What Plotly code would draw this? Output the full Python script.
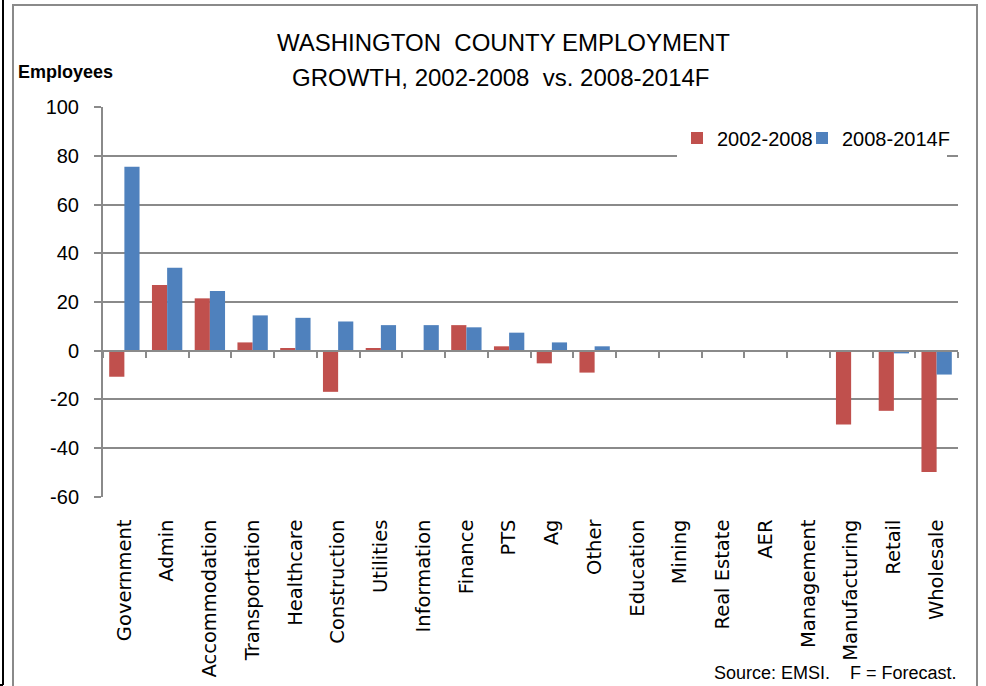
import plotly.graph_objects as go

categories = ["Government", "Admin", "Accommodation", "Transportation", "Healthcare",
              "Construction", "Utilities", "Information", "Finance", "PTS", "Ag", "Other",
              "Education", "Mining", "Real Estate", "AER", "Management", "Manufacturing",
              "Retail", "Wholesale"]
growth_2002_2008 = [-10.7, 27.0, 21.5, 3.4, 1.1, -16.9, 1.1, 0, 10.5, 1.8, -5.2, -9.0,
                    0, 0, 0, 0, 0, -30.3, -24.7, -49.8]
growth_2008_2014f = [75.6, 34.1, 24.5, 14.5, 13.5, 12.0, 10.5, 10.5, 9.6, 7.4, 3.4, 1.8,
                     0, 0, 0, 0, 0, 0, -1.1, -9.8]
y_ticks = [-60, -40, -20, 0, 20, 40, 60, 80, 100]
y_tick_labels = ["-60", "-40", "-20", "0", "20", "40", "60", "80", "100"]

GRID = "#8a8a8a"
RED = "#C0504D"
BLUE = "#4F81BD"

W, H = 986, 686
L, R, T, B = 103, 28, 107, 189
PW, PH = W - L - R, H - T - B


def px(x):
    return (x - L) / PW


def py(y):
    return (H - B - y) / PH


fig = go.Figure()
fig.add_trace(go.Bar(x=categories, y=growth_2002_2008, name="2002-2008",
                     marker=dict(color=RED, line=dict(width=0)), legend="legend"))
fig.add_trace(go.Bar(x=categories, y=growth_2008_2014f, name="2008-2014F",
                     marker=dict(color=BLUE, line=dict(width=0)), legend="legend2"))

legend_common = dict(orientation="h", xanchor="left", yanchor="middle",
                     font=dict(size=20, family="Liberation Sans"))

fig.update_layout(
    width=W, height=H,
    margin=dict(l=L, r=R, t=T, b=B, autoexpand=False),
    paper_bgcolor="white", plot_bgcolor="white",
    barmode="group", bargap=0.29, bargroupgap=0,
    font=dict(family="Liberation Sans, Arial, sans-serif", color="black"),
    showlegend=True,
    legend=dict(x=px(677), y=py(138), bgcolor="white", entrywidth=225,
                entrywidthmode="pixels", **legend_common),
    legend2=dict(x=px(802), y=py(138), bgcolor="rgba(0,0,0,0)", **legend_common),
    xaxis=dict(type="category", categoryorder="array", categoryarray=categories,
               range=[-0.5, len(categories) - 0.5], automargin=False,
               anchor="free", position=60 / 160,
               showgrid=False, showline=True, linecolor=GRID, linewidth=2,
               zeroline=False,
               ticks="outside", tickson="boundaries", ticklen=6, tickwidth=2,
               tickcolor=GRID,
               tickangle=-90, ticklabelstandoff=160,
               tickfont=dict(family="DejaVu Sans", size=19.5, color="black")),
    yaxis=dict(range=[-60.1, 100.1], tickvals=y_ticks, ticktext=y_tick_labels,
               automargin=False,
               showgrid=True, gridcolor=GRID, gridwidth=2, zeroline=False,
               showline=True, linecolor=GRID, linewidth=2,
               ticks="outside", ticklen=7, tickwidth=2, tickcolor=GRID,
               ticklabelstandoff=11,
               tickfont=dict(family="Liberation Sans", size=20, color="black")),
)

fig.add_annotation(text="WASHINGTON  COUNTY EMPLOYMENT", x=px(503), y=py(42.5),
                   xref="paper", yref="paper", xanchor="center", yanchor="middle",
                   showarrow=False, font=dict(size=24, family="Liberation Sans"))
fig.add_annotation(text="GROWTH, 2002-2008  vs. 2008-2014F", x=px(501), y=py(77),
                   xref="paper", yref="paper", xanchor="center", yanchor="middle",
                   showarrow=False, font=dict(size=24, family="Liberation Sans"))
fig.add_annotation(text="<b>Employees</b>", x=px(16), y=py(72),
                   xref="paper", yref="paper", xanchor="left", yanchor="middle",
                   showarrow=False, font=dict(size=18, family="Liberation Sans"))
fig.add_annotation(text="Source: EMSI.    F = Forecast.", x=px(959), y=py(673),
                   xref="paper", yref="paper", xanchor="right", yanchor="middle",
                   showarrow=False, font=dict(size=18, family="Liberation Sans"))

# chart frame
fig.add_shape(type="rect", xref="paper", yref="paper",
              x0=px(13), x1=px(977), y0=py(700), y1=py(5),
              line=dict(color=GRID, width=2), layer="below")
fig.add_shape(type="line", xref="paper", yref="paper",
              x0=px(3), x1=px(3), y0=py(0), y1=py(685),
              line=dict(color="black", width=2))
fig.add_shape(type="line", xref="paper", yref="paper",
              x0=px(0), x1=px(3), y0=py(685), y1=py(685),
              line=dict(color="black", width=2))

fig.write_html("out.html", config={"displayModeBar": False},
               post_script="document.body.style.margin='0';document.body.style.overflow='hidden';")
